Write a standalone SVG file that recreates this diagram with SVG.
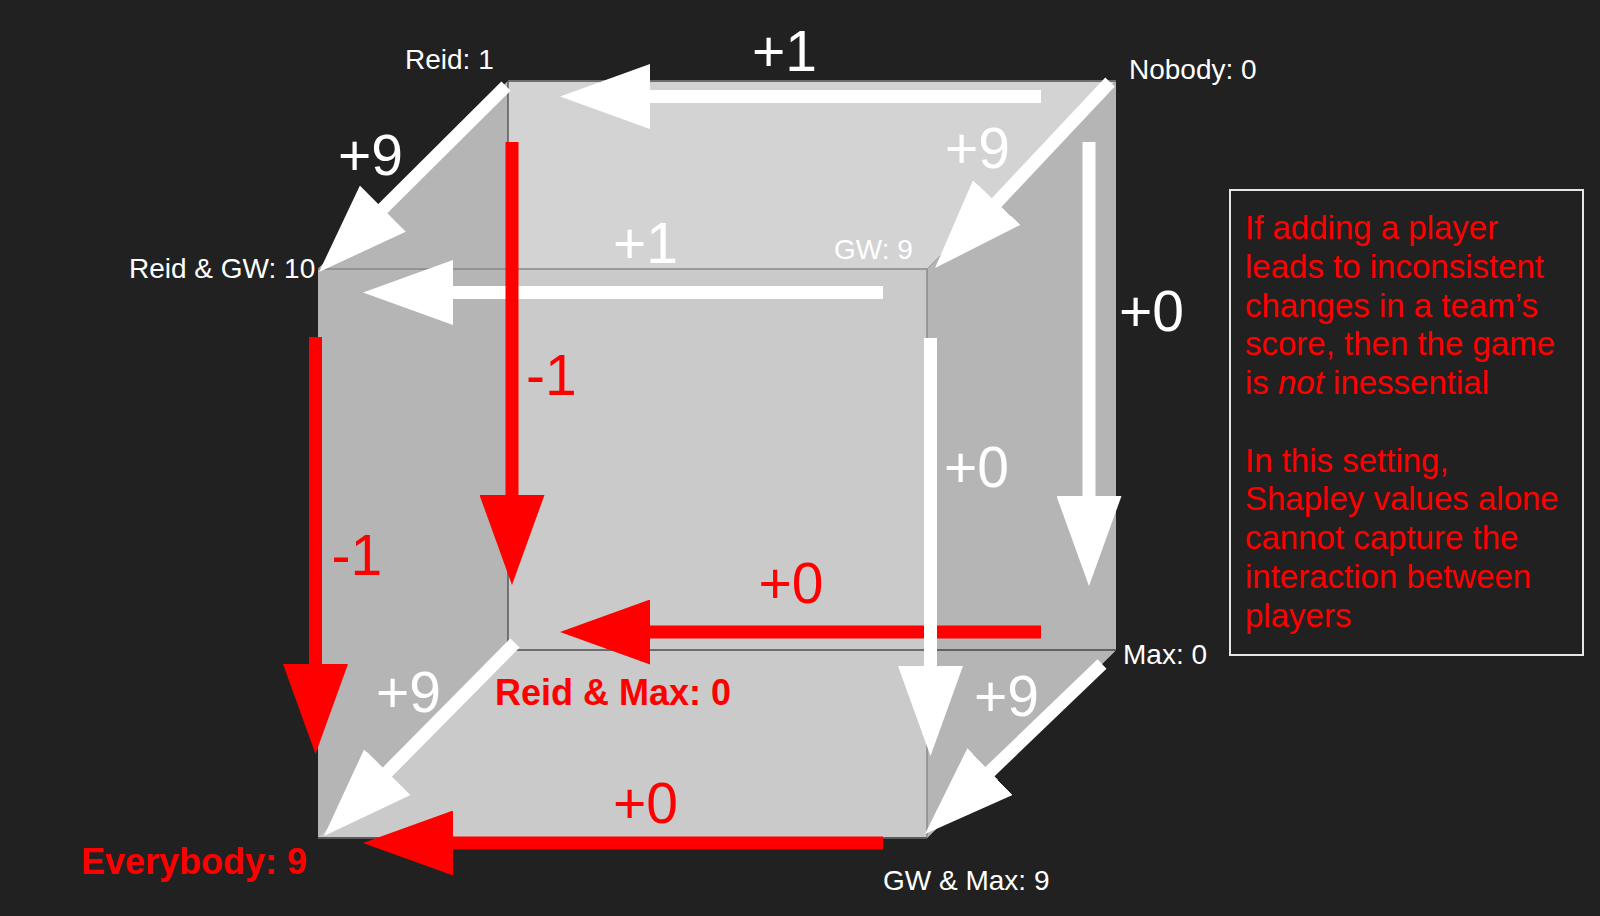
<svg xmlns="http://www.w3.org/2000/svg" width="1600" height="916" viewBox="0 0 1600 916">
<defs>
<style>
text { font-family: "Liberation Sans", Arial, Helvetica, sans-serif; }
.lbl { font-size: 28px; fill: #ffffff; }
.big { font-size: 57px; }
.bw { fill: #ffffff; }
.br { fill: #ff0000; }
.bold { font-size: 36px; font-weight: bold; fill: #ff0000; }
.note { font-size: 33px; fill: #ff0000; }
.aw { stroke: #ffffff; stroke-width: 13; fill: none; marker-end: url(#hw); }
.ar { stroke: #ff0000; stroke-width: 13; fill: none; marker-end: url(#hr); }
.side { fill: #b5b5b5; }
</style>
<marker id="hw" markerUnits="userSpaceOnUse" markerWidth="90" markerHeight="65" viewBox="0 0 90 65" refX="2" refY="32.5" orient="auto">
<path d="M0,0 L90,32.5 L0,65 Z" fill="#ffffff"/>
</marker>
<marker id="hr" markerUnits="userSpaceOnUse" markerWidth="90" markerHeight="65" viewBox="0 0 90 65" refX="2" refY="32.5" orient="auto">
<path d="M0,0 L90,32.5 L0,65 Z" fill="#ff0000"/>
</marker>
</defs>
<rect x="0" y="0" width="1600" height="916" fill="#212121"/>

<g id="cube">
<polygon points="508,81 1116,81 927,269 318,269" fill="#d3d3d3"/>
<rect x="318" y="269" width="609" height="569" fill="#cacaca"/>
<polygon points="508,650 1116,650 927,838 318,838" fill="#cacaca"/>
<polygon class="side" points="508,81 508,650 318,838 318,269"/>
<polygon class="side" points="1116,81 1116,650 927,838 927,269"/>
<line x1="508" y1="81" x2="1116" y2="81" stroke="#6e6e6e" stroke-width="2"/>
<line x1="508" y1="81" x2="508" y2="650" stroke="#222222" stroke-width="1"/>
<line x1="508" y1="650" x2="1116" y2="650" stroke="#111111" stroke-width="1.2"/>
<line x1="318" y1="269" x2="927" y2="269" stroke="#888888" stroke-width="1.5"/>
<line x1="927" y1="269" x2="927" y2="838" stroke="#8a8a8a" stroke-width="1.5"/>
<line x1="318" y1="838" x2="927" y2="838" stroke="#5a5a5a" stroke-width="2"/>
</g>

<g id="connectors">
<line class="aw" x1="1041" y1="96.5" x2="648" y2="96.5"/>
<line class="aw" x1="883" y1="292.5" x2="451" y2="292.5"/>
<line class="aw" x1="506" y1="86" x2="381.4" y2="210"/>
<line class="aw" x1="1110" y1="82" x2="995.3" y2="204"/>
<line class="ar" x1="315.5" y1="337" x2="315.5" y2="666"/>
<line class="ar" x1="512" y1="142" x2="512" y2="497"/>
<line class="ar" x1="1041" y1="632" x2="648" y2="632"/>
<line class="ar" x1="883" y1="843" x2="451" y2="843"/>
<line class="aw" x1="1089" y1="142" x2="1089" y2="498"/>
<line class="aw" x1="930.5" y1="338" x2="930.5" y2="668"/>
<line class="aw" x1="515" y1="643" x2="385.9" y2="773.5"/>
<line class="aw" x1="1102" y1="664" x2="988.5" y2="773"/>
</g>

<g id="edge-labels">
<text class="big bw" x="752" y="71">+1</text>
<text class="big bw" x="338" y="175">+9</text>
<text class="big bw" x="945" y="168">+9</text>
<text class="big bw" x="613" y="263">+1</text>
<text class="big bw" x="1119" y="331">+0</text>
<text class="big br" x="526" y="395">-1</text>
<text class="big bw" x="944" y="487">+0</text>
<text class="big br" x="331.5" y="575">-1</text>
<text class="big br" x="758.5" y="603">+0</text>
<text class="big bw" x="376" y="712">+9</text>
<text class="big bw" x="974" y="716">+9</text>
<text class="big br" x="613" y="823">+0</text>
</g>

<g id="node-nobody"><text class="lbl" x="1129" y="79">Nobody: 0</text></g>
<g id="node-reid"><text class="lbl" x="405" y="69">Reid: 1</text></g>
<g id="node-gw"><text class="lbl" x="834" y="259">GW: 9</text></g>
<g id="node-max"><text class="lbl" x="1123" y="664">Max: 0</text></g>
<g id="node-reid-gw"><text class="lbl" x="129" y="278">Reid &amp; GW: 10</text></g>
<g id="node-reid-max"><text class="bold" x="495" y="705">Reid &amp; Max: 0</text></g>
<g id="node-gw-max"><text class="lbl" x="883" y="890">GW &amp; Max: 9</text></g>
<g id="node-everybody"><text class="bold" x="81" y="874">Everybody: 9</text></g>

<g id="note">
<rect x="1230" y="190" width="353" height="465" fill="none" stroke="#e6e6e6" stroke-width="2"/>
<text class="note" x="1245" y="239">If adding a player</text>
<text class="note" x="1245" y="277.75">leads to inconsistent</text>
<text class="note" x="1245" y="316.5">changes in a team’s</text>
<text class="note" x="1245" y="355.25">score, then the game</text>
<text class="note" x="1245" y="394">is <tspan font-style="italic">not</tspan> inessential</text>
<text class="note" x="1245" y="471.5">In this setting,</text>
<text class="note" x="1245" y="510.25">Shapley values alone</text>
<text class="note" x="1245" y="549">cannot capture the</text>
<text class="note" x="1245" y="587.75">interaction between</text>
<text class="note" x="1245" y="626.5">players</text>
</g>
</svg>
